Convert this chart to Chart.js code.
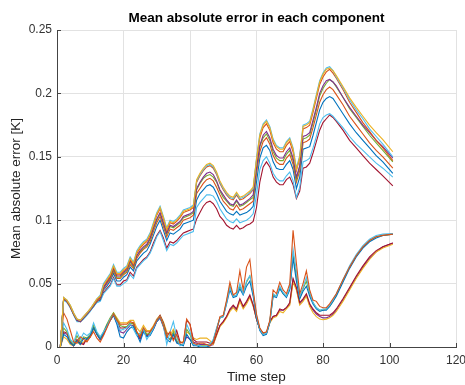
<!DOCTYPE html>
<html><head><meta charset="utf-8">
<script src="https://cdn.jsdelivr.net/npm/chart.js@4/dist/chart.umd.min.js"></script>
<style>html,body{margin:0;padding:0;background:#fff;}canvas{display:block;}</style>
</head><body>
<canvas id="c" width="465" height="385"></canvas>
<script>
// Time steps (x values)
const steps = [1,2,3,4,5,6,7,8,9,10,11,12,13,14,15,16,17,18,19,20,21,22,23,24,25,26,27,28,29,30,
31,32,33,34,35,36,37,38,39,40,41,42,43,44,45,46,47,48,49,50,51,52,53,54,55,56,57,58,59,60,
61,62,63,64,65,66,67,68,69,70,71,72,73,74,75,76,77,78,79,80,81,82,83,84,86,88,90,92,94,96,98,101];

// Upper group of components
const upper1 = [0,0.039,0.037,0.033,0.027,0.022,0.021,0.024,0.027,0.030,0.034,0.038,
0.040,0.049,0.053,0.057,0.064,0.058,0.058,0.061,0.063,0.070,0.066,0.075,0.079,0.082,0.084,0.089,0.097,0.105,0.110,0.102,0.093,0.099,0.098,0.100,0.103,0.107,0.108,0.109,0.111,
0.132,0.137,0.141,0.144,0.145,0.143,0.138,0.131,0.126,0.122,0.119,0.118,0.122,0.118,0.119,0.121,0.123,0.126,
0.148,0.167,0.175,0.178,0.173,0.163,0.158,0.156,0.156,0.161,0.164,0.156,0.140,0.150,0.174,0.175,0.177,0.187,0.198,0.209,0.215,0.219,
0.220,0.218,0.214,
0.2055,0.1965,0.189,0.182,0.175,0.169,0.1635,0.154];
const upper2 = [0,0.039,0.037,0.033,0.027,0.022,0.021,0.024,0.027,0.030,0.034,0.038,
0.041,0.050,0.054,0.058,0.065,0.059,0.059,0.062,0.064,0.071,0.067,0.076,0.080,0.083,0.085,0.090,0.098,0.106,0.111,0.103,0.094,0.100,0.099,0.101,0.104,0.108,0.109,0.110,0.112,
0.131,0.136,0.140,0.143,0.144,0.142,0.137,0.130,0.125,0.121,0.118,0.117,0.121,0.117,0.118,0.120,0.122,0.125,
0.149,0.168,0.176,0.179,0.174,0.164,0.159,0.157,0.157,0.162,0.165,0.157,0.141,0.151,0.175,0.176,0.178,0.188,0.199,0.210,0.216,0.220,
0.221,0.218,0.213,
0.2045,0.195,0.187,0.180,0.172,0.166,0.160,0.150];
const upper3 = [0,0.039,0.036,0.032,0.026,0.022,0.021,0.024,0.027,0.030,0.033,0.037,
0.040,0.049,0.052,0.056,0.063,0.057,0.057,0.060,0.062,0.069,0.065,0.074,0.078,0.081,0.083,0.088,0.096,0.104,0.109,0.101,0.092,0.098,0.097,0.099,0.102,0.106,0.107,0.108,0.110,
0.130,0.135,0.139,0.142,0.143,0.141,0.136,0.129,0.124,0.120,0.117,0.116,0.120,0.116,0.117,0.119,0.121,0.124,
0.147,0.165,0.173,0.176,0.171,0.161,0.156,0.154,0.154,0.159,0.162,0.154,0.139,0.149,0.172,0.173,0.175,0.185,0.196,0.207,0.213,0.217,
0.219,0.216,0.212,
0.203,0.193,0.185,0.177,0.170,0.163,0.157,0.147];
const upper4 = [0,0.038,0.036,0.032,0.026,0.021,0.020,0.023,0.026,0.029,0.033,0.037,
0.039,0.047,0.051,0.055,0.062,0.056,0.056,0.059,0.061,0.068,0.064,0.072,0.076,0.079,0.081,0.086,0.094,0.101,0.106,0.098,0.090,0.096,0.095,0.097,0.099,0.103,0.104,0.105,0.107,
0.125,0.130,0.134,0.137,0.138,0.136,0.131,0.124,0.120,0.116,0.113,0.112,0.116,0.112,0.113,0.115,0.117,0.120,
0.141,0.159,0.167,0.170,0.165,0.156,0.151,0.149,0.149,0.154,0.157,0.149,0.134,0.143,0.166,0.167,0.169,0.179,0.189,0.200,0.206,0.210,
0.211,0.209,0.206,
0.197,0.189,0.182,0.175,0.169,0.163,0.158,0.149];
const upper5 = [0,0.038,0.036,0.032,0.026,0.021,0.020,0.023,0.026,0.029,0.033,0.037,
0.039,0.047,0.051,0.054,0.061,0.055,0.055,0.058,0.060,0.067,0.063,0.072,0.075,0.078,0.080,0.085,0.093,0.100,0.105,0.097,0.089,0.095,0.094,0.096,0.098,0.102,0.103,0.104,0.106,
0.124,0.129,0.133,0.135,0.136,0.134,0.130,0.123,0.118,0.115,0.112,0.111,0.115,0.111,0.112,0.114,0.116,0.118,
0.140,0.158,0.165,0.168,0.163,0.154,0.149,0.147,0.147,0.152,0.155,0.147,0.132,0.142,0.164,0.165,0.167,0.177,0.187,0.198,0.204,0.208,
0.211,0.209,0.205,
0.197,0.188,0.181,0.174,0.167,0.161,0.155,0.146];
const upper6 = [0,0.038,0.036,0.032,0.026,0.021,0.020,0.023,0.026,0.029,0.033,0.036,
0.038,0.046,0.050,0.053,0.060,0.054,0.054,0.057,0.059,0.065,0.062,0.070,0.074,0.077,0.079,0.083,0.091,0.098,0.103,0.095,0.087,0.093,0.092,0.094,0.096,0.100,0.101,0.102,0.104,
0.121,0.125,0.129,0.132,0.133,0.131,0.126,0.120,0.115,0.112,0.109,0.108,0.112,0.108,0.109,0.111,0.113,0.115,
0.137,0.154,0.162,0.165,0.160,0.151,0.146,0.144,0.144,0.149,0.152,0.144,0.130,0.139,0.161,0.162,0.164,0.173,0.183,0.193,0.199,0.203,
0.205,0.203,0.199,
0.191,0.182,0.175,0.168,0.161,0.155,0.150,0.141];
const upper7 = [0,0.038,0.036,0.032,0.026,0.021,0.020,0.023,0.026,0.029,0.032,0.036,
0.037,0.045,0.048,0.052,0.058,0.052,0.052,0.055,0.057,0.063,0.060,0.068,0.071,0.074,0.076,0.081,0.088,0.095,0.100,0.092,0.084,0.090,0.089,0.091,0.093,0.097,0.098,0.099,0.100,
0.116,0.121,0.124,0.127,0.128,0.126,0.121,0.115,0.111,0.107,0.105,0.104,0.107,0.104,0.105,0.106,0.108,0.111,
0.130,0.149,0.157,0.159,0.155,0.146,0.141,0.140,0.140,0.144,0.147,0.140,0.125,0.134,0.156,0.157,0.158,0.167,0.177,0.187,0.193,0.196,
0.1975,0.196,0.192,
0.184,0.176,0.169,0.163,0.157,0.151,0.146,0.137];
const upper8 = [0,0.037,0.035,0.031,0.025,0.020,0.020,0.022,0.025,0.028,0.032,0.035,
0.036,0.042,0.045,0.048,0.054,0.048,0.048,0.050,0.052,0.057,0.054,0.062,0.065,0.068,0.070,0.074,0.080,0.087,0.091,0.084,0.076,0.081,0.080,0.082,0.085,0.088,0.089,0.090,0.091,
0.110,0.114,0.117,0.120,0.120,0.119,0.115,0.109,0.105,0.101,0.099,0.098,0.101,0.098,0.099,0.100,0.102,0.105,
0.120,0.140,0.147,0.150,0.145,0.137,0.133,0.131,0.131,0.135,0.138,0.131,0.118,0.126,0.146,0.147,0.149,0.157,0.166,0.176,0.181,0.183,
0.184,0.182,0.179,
0.173,0.166,0.160,0.155,0.150,0.145,0.141,0.134];
const upper9 = [0,0.037,0.036,0.031,0.026,0.021,0.020,0.023,0.026,0.029,0.032,0.036,
0.037,0.043,0.046,0.049,0.055,0.049,0.049,0.052,0.053,0.059,0.056,0.063,0.066,0.069,0.071,0.075,0.082,0.088,0.092,0.086,0.078,0.083,0.082,0.084,0.087,0.090,0.091,0.092,0.093,
0.101,0.106,0.111,0.114,0.115,0.113,0.109,0.103,0.100,0.096,0.094,0.093,0.096,0.093,0.094,0.096,0.097,0.099,
0.110,0.130,0.142,0.146,0.142,0.134,0.130,0.128,0.128,0.132,0.134,0.128,0.117,0.123,0.141,0.142,0.145,0.153,0.162,0.171,0.177,0.180,
0.183,0.181,0.178,
0.171,0.163,0.157,0.151,0.145,0.140,0.135,0.127];

// Lower group of components
const lower1 = [0,0.027,0.022,0.013,0.004,0.003,0.008,0.006,0.004,0.008,0.012,0.007,
0.004,0.009,0.015,0.021,0.026,0.021,0.018,0.018,0.018,0.020,0.019,0.012,0.008,0.015,0.012,0.012,0.016,0.021,0.024,0.017,0.008,0.012,0.005,0.010,0.003,0.004,0.022,0.018,0.003,0.002,0.003,0.003,0.002,0.001,0.004,
0.013,0.024,0.025,0.037,0.051,0.041,0.043,0.060,0.045,0.063,0.069,0.045,0.026,0.015,0.011,0.012,0.021,0.045,0.042,0.051,0.045,0.042,0.050,0.092,0.066,0.042,0.050,0.060,0.045,0.037,0.036,0.032,0.031,0.031,0.034,
0.038,0.042,
0.053,0.063,0.072,0.079,0.084,0.087,0.088,0.089];
const lower2 = [0,0.019,0.014,0.006,0.003,0.012,0.006,0.011,0.009,0.011,0.019,0.012,
0.008,0.012,0.016,0.022,0.026,0.020,0.013,0.014,0.015,0.018,0.014,0.009,0.011,0.014,0.006,0.010,0.015,0.021,0.024,0.017,0.002,0.012,0.020,0.008,0.001,0.002,0.018,0.012,0.002,0.002,0.001,0.000,0.001,0.002,0.006,
0.015,0.023,0.024,0.035,0.047,0.040,0.041,0.050,0.042,0.052,0.056,0.043,0.025,0.014,0.010,0.011,0.020,0.042,0.040,0.048,0.043,0.040,0.047,0.077,0.060,0.040,0.047,0.055,0.043,0.035,0.031,0.029,0.030,0.030,0.033,
0.037,0.042,
0.053,0.064,0.073,0.080,0.085,0.088,0.089,0.0895];
const lower3 = [0,0.010,0.008,0.003,0.001,0.005,0.002,0.007,0.006,0.009,0.015,0.010,
0.006,0.011,0.017,0.021,0.025,0.018,0.008,0.007,0.012,0.015,0.016,0.010,0.004,0.012,0.008,0.009,0.014,0.020,0.023,0.016,0.006,0.004,0.010,0.003,0.002,0.001,0.010,0.006,0.001,0.001,0.000,0.000,0.000,0.001,0.005,
0.014,0.023,0.024,0.034,0.045,0.039,0.040,0.046,0.041,0.048,0.052,0.040,0.023,0.013,0.009,0.010,0.019,0.040,0.039,0.046,0.042,0.039,0.045,0.070,0.052,0.038,0.044,0.048,0.040,0.034,0.030,0.028,0.029,0.029,0.032,
0.036,0.040,
0.051,0.062,0.071,0.078,0.083,0.086,0.088,0.089];
const lower4 = [0,0.015,0.012,0.005,0.002,0.009,0.004,0.008,0.007,0.010,0.017,0.011,
0.007,0.012,0.018,0.023,0.027,0.022,0.017,0.016,0.016,0.019,0.018,0.011,0.009,0.015,0.010,0.011,0.015,0.021,0.024,0.018,0.009,0.006,0.012,0.005,0.002,0.002,0.014,0.010,0.002,0.002,0.001,0.001,0.001,0.002,0.005,
0.014,0.023,0.024,0.036,0.048,0.040,0.041,0.048,0.042,0.051,0.056,0.042,0.024,0.014,0.010,0.011,0.020,0.041,0.040,0.047,0.042,0.040,0.046,0.072,0.056,0.039,0.046,0.052,0.042,0.035,0.031,0.029,0.029,0.030,0.032,
0.036,0.041,
0.052,0.063,0.072,0.079,0.084,0.087,0.088,0.089];
const lower5 = [0,0.012,0.011,0.004,0.001,0.006,0.003,0.002,0.007,0.008,0.016,0.010,
0.006,0.010,0.016,0.022,0.026,0.021,0.015,0.015,0.016,0.018,0.019,0.012,0.007,0.014,0.009,0.012,0.015,0.021,0.025,0.019,0.010,0.011,0.006,0.013,0.004,0.003,0.021,0.018,0.006,0.004,0.004,0.004,0.004,0.003,0.003,
0.010,0.017,0.020,0.024,0.030,0.033,0.030,0.038,0.032,0.036,0.041,0.033,0.022,0.014,0.011,0.011,0.020,0.024,0.025,0.030,0.029,0.031,0.035,0.054,0.047,0.035,0.038,0.042,0.034,0.030,0.027,0.025,0.025,0.025,0.025,
0.027,0.030,
0.038,0.047,0.056,0.064,0.071,0.076,0.079,0.082];
const lower6 = [0,0.008,0.006,0.002,0.001,0.004,0.002,0.004,0.005,0.008,0.014,0.011,
0.007,0.011,0.017,0.022,0.027,0.023,0.019,0.019,0.019,0.021,0.021,0.015,0.012,0.017,0.013,0.013,0.017,0.022,0.025,0.020,0.012,0.009,0.014,0.008,0.004,0.004,0.012,0.010,0.007,0.006,0.007,0.007,0.007,0.005,0.002,
0.009,0.016,0.019,0.023,0.028,0.031,0.028,0.036,0.030,0.034,0.039,0.032,0.022,0.014,0.011,0.011,0.019,0.023,0.024,0.028,0.027,0.030,0.033,0.051,0.045,0.033,0.036,0.040,0.032,0.027,0.024,0.022,0.0215,0.022,0.023,
0.025,0.028,
0.036,0.045,0.054,0.062,0.069,0.075,0.078,0.081];
const lower7 = [0,0.011,0.010,0.004,0.001,0.005,0.003,0.003,0.006,0.008,0.015,0.010,
0.006,0.010,0.016,0.021,0.025,0.019,0.012,0.011,0.014,0.017,0.017,0.010,0.006,0.013,0.009,0.010,0.014,0.020,0.023,0.017,0.008,0.006,0.010,0.004,0.002,0.002,0.008,0.006,0.004,0.003,0.002,0.002,0.002,0.001,0.002,
0.010,0.017,0.020,0.024,0.029,0.032,0.029,0.037,0.031,0.035,0.040,0.033,0.022,0.014,0.011,0.011,0.020,0.024,0.025,0.029,0.029,0.031,0.034,0.053,0.046,0.034,0.037,0.041,0.033,0.029,0.026,0.024,0.023,0.023,0.024,
0.026,0.029,
0.037,0.046,0.055,0.063,0.070,0.075,0.079,0.082];

// Axis ticks and texts
const xTicks = [0,20,40,60,80,100,120];
const yTicks = [0,0.05,0.1,0.15,0.2,0.25];
const yTickLabels = ['0','0.05','0.1','0.15','0.2','0.25'];
const titleText = 'Mean absolute error in each component';
const xTitleText = 'Time step';
const yTitleText = 'Mean absolute error [K]';

const seriesList = [upper1,upper2,upper3,upper4,upper5,upper6,upper7,upper8,upper9,
                    lower1,lower2,lower3,lower4,lower5,lower6,lower7];
const seriesColors = ['#EDB120','#4DBEEE','#D95319','#7E2F8E','#77AC30','#D95319','#0072BD','#4DBEEE','#A2142F',
                      '#D95319','#4DBEEE','#0072BD','#77AC30','#A2142F','#EDB120','#7E2F8E'];

const FONT = '"Liberation Sans", Arial, Helvetica, sans-serif';
Chart.defaults.font.family = FONT;

const datasets = seriesList.map((arr, k) => ({
  label: 'c' + (k + 1),
  data: steps.map((x, i) => ({x: x, y: arr[i]})),
  borderColor: seriesColors[k],
  borderWidth: 1.1,
  pointRadius: 0,
  tension: 0,
  fill: false
}));

const titlePlugin = {
  id: 'centerTitle',
  afterDraw(chart) {
    const ca = chart.chartArea, ctx = chart.ctx;
    ctx.save();
    ctx.font = 'bold 13.5px ' + FONT;
    ctx.fillStyle = '#000';
    ctx.textAlign = 'center';
    ctx.textBaseline = 'middle';
    ctx.fillText(titleText, (ca.left + ca.right) / 2, 18);
    ctx.restore();
  }
};
const inTicks = {
  id: 'inTicks',
  afterDatasetsDraw(chart) {
    const ctx = chart.ctx, xs = chart.scales.x, ys = chart.scales.y, ca = chart.chartArea;
    ctx.save();
    ctx.strokeStyle = '#444';
    ctx.lineWidth = 1;
    ctx.beginPath();
    xTicks.forEach(v => { const p = Math.round(xs.getPixelForValue(v)) + 0.5; ctx.moveTo(p, ca.bottom); ctx.lineTo(p, ca.bottom - 4); });
    yTicks.forEach(v => { const p = Math.round(ys.getPixelForValue(v)) + 0.5; ctx.moveTo(ca.left, p); ctx.lineTo(ca.left + 4, p); });
    ctx.stroke();
    ctx.restore();
  }
};

new Chart(document.getElementById('c'), {
  type: 'line',
  data: { datasets },
  options: {
    responsive: false,
    animation: false,
    devicePixelRatio: 1,
    layout: { padding: { top: 30, right: 0, left: 0, bottom: 0 } },
    plugins: { legend: { display: false }, tooltip: { enabled: false }, title: { display: false } },
    scales: {
      x: {
        type: 'linear', min: 0, max: 120,
        afterBuildTicks: s => { s.ticks = xTicks.map(v => ({ value: v })); },
        afterFit: s => { s.height = 38; s.paddingRight = 9; s.paddingLeft = 0; },
        grid: { color: '#e2e2e2', drawTicks: false },
        border: { display: true, color: '#444', width: 1 },
        ticks: { padding: 6, color: '#333', font: { size: 12 }, maxRotation: 0 },
        title: { display: true, text: xTitleText, color: '#222', font: { size: 13.5 }, padding: { top: 0, bottom: 0 } }
      },
      y: {
        type: 'linear', min: 0, max: 0.25,
        afterBuildTicks: s => { s.ticks = yTicks.map(v => ({ value: v })); },
        afterFit: s => { s.width = 57; s.paddingTop = 0; s.paddingBottom = 0; },
        grid: { color: '#e2e2e2', drawTicks: false },
        border: { display: true, color: '#444', width: 1 },
        ticks: { padding: 5, color: '#333', font: { size: 12 }, callback: (v, i) => yTickLabels[i] },
        title: { display: true, text: yTitleText, color: '#222', font: { size: 13.5 }, padding: { top: 8.5, bottom: 0 } }
      }
    }
  },
  plugins: [titlePlugin, inTicks]
});
</script>
</body></html>
